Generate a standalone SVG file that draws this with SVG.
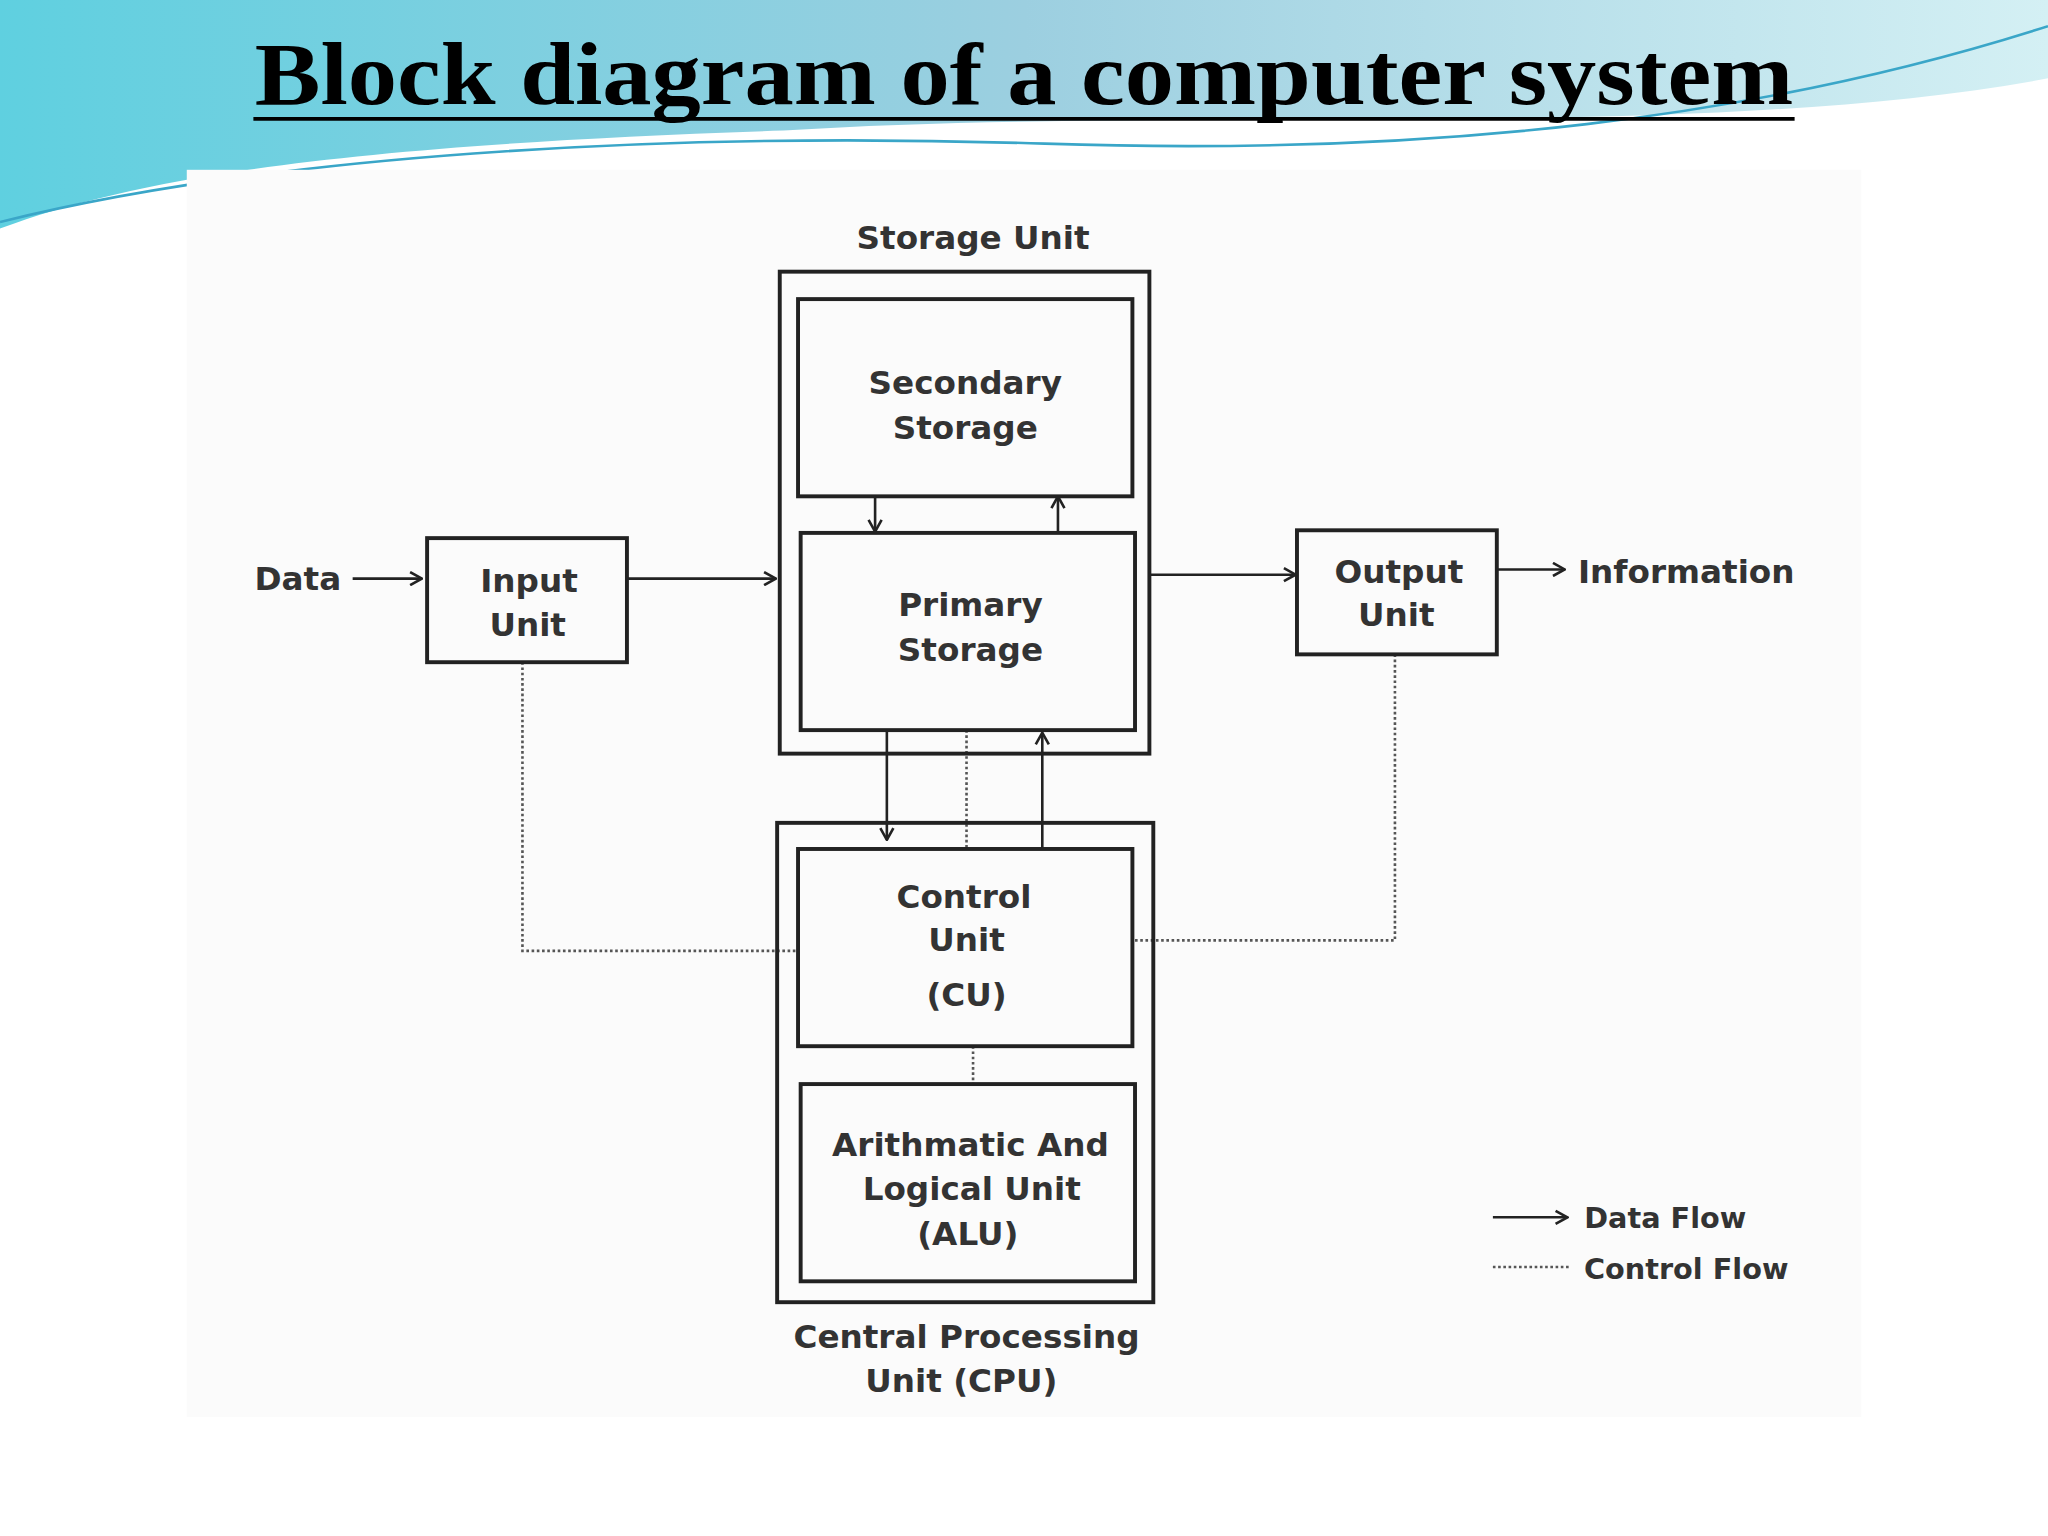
<svg xmlns="http://www.w3.org/2000/svg" width="2048" height="1536" viewBox="0 0 2048 1536">
<defs>
<style>
.box{fill:none;stroke:#222;stroke-width:3}
.flow{stroke:#222;stroke-width:2;fill:none}
.ctl{stroke:#555;stroke-width:2;fill:none;stroke-dasharray:2 2}
.t{font-family:"DejaVu Sans",sans-serif;font-weight:bold;font-size:25px;fill:#333;text-anchor:middle}
</style>
<marker id="ah" viewBox="0 0 12 12" refX="11" refY="6" markerWidth="12" markerHeight="12" markerUnits="userSpaceOnUse" orient="auto"><path d="M2,1 L11,6 L2,11" fill="none" stroke="#222" stroke-width="2"/></marker>
<linearGradient id="sw" x1="0" y1="0" x2="1" y2="0"><stop offset="0" stop-color="#5fd0e0"/><stop offset="0.5" stop-color="#9ccfe0"/><stop offset="1" stop-color="#d4f0f4"/></linearGradient>
</defs>
<rect width="2048" height="1536" fill="#fff"/>
<g transform="scale(1.30612)">
<path d="M0,0 H1568 V60 C1300,110 900,80 600,100 C300,110 120,130 0,175 Z" fill="url(#sw)"/>
<path d="M0,170 C200,120 500,100 800,110 C1100,120 1350,90 1568,20" fill="none" stroke="#3aa6c8" stroke-width="2"/>
<rect x="143" y="130" width="1282" height="955" fill="#fbfbfb"/>
<text x="784" y="80" font-family="Liberation Serif,serif" font-weight="bold" font-size="68" text-anchor="middle" fill="#000" textLength="1178" lengthAdjust="spacingAndGlyphs">Block diagram of a computer system</text>
<line x1="194" y1="91" x2="1374" y2="91" stroke="#000" stroke-width="3"/>

<g id="connectors">
<line class="flow" x1="270" y1="443" x2="323" y2="443" marker-end="url(#ah)"/>
<line class="flow" x1="480" y1="443" x2="594" y2="443" marker-end="url(#ah)"/>
<line class="flow" x1="880" y1="440" x2="992" y2="440" marker-end="url(#ah)"/>
<line class="flow" x1="1146" y1="436" x2="1198" y2="436" marker-end="url(#ah)"/>
<line class="flow" x1="670" y1="380" x2="670" y2="407" marker-end="url(#ah)"/>
<line class="flow" x1="810" y1="408" x2="810" y2="380" marker-end="url(#ah)"/>
<line class="flow" x1="679" y1="559" x2="679" y2="643" marker-end="url(#ah)"/>
<line class="flow" x1="798" y1="650" x2="798" y2="561" marker-end="url(#ah)"/>
<line class="ctl" x1="740" y1="559" x2="740" y2="650"/>
<polyline class="ctl" points="400,507 400,728 611,728"/>
<polyline class="ctl" points="1068,501 1068,720 867,720"/>
<line class="ctl" x1="745" y1="801" x2="745" y2="830"/>
</g>

<g id="storage-unit"><rect class="box" x="597" y="208" width="283" height="369"/><text class="t" x="745" y="191">Storage Unit</text></g>
<g id="secondary-storage"><rect class="box" x="611" y="229" width="256" height="151"/><text class="t" x="739" y="302">Secondary</text><text class="t" x="739" y="336">Storage</text></g>
<g id="primary-storage"><rect class="box" x="613" y="408" width="256" height="151"/><text class="t" x="743" y="472">Primary</text><text class="t" x="743" y="506">Storage</text></g>
<g id="input-unit"><rect class="box" x="327" y="412" width="153" height="95"/><text class="t" x="405" y="453">Input</text><text class="t" x="404" y="487">Unit</text></g>
<g id="output-unit"><rect class="box" x="993" y="406" width="153" height="95"/><text class="t" x="1071" y="446">Output</text><text class="t" x="1069" y="479">Unit</text></g>
<g id="cpu"><rect class="box" x="595" y="630" width="288" height="367"/><text class="t" x="740" y="1032">Central Processing</text><text class="t" x="736" y="1066">Unit (CPU)</text></g>
<g id="control-unit"><rect class="box" x="611" y="650" width="256" height="151"/><text class="t" x="738" y="695">Control</text><text class="t" x="740" y="728">Unit</text><text class="t" x="740" y="770">(CU)</text></g>
<g id="alu"><rect class="box" x="613" y="830" width="256" height="151"/><text class="t" x="743" y="885">Arithmatic And</text><text class="t" x="744" y="919">Logical Unit</text><text class="t" x="741" y="953">(ALU)</text></g>
<g id="data"><text class="t" x="228" y="452">Data</text></g>
<g id="information"><text class="t" x="1291" y="446">Information</text></g>
<g id="legend">
<line class="flow" x1="1143" y1="932" x2="1200" y2="932" marker-end="url(#ah)"/>
<text class="t" x="1275" y="940" style="font-size:22px">Data Flow</text>
<line class="ctl" x1="1143" y1="970" x2="1203" y2="970"/>
<text class="t" x="1291" y="979" style="font-size:22px">Control Flow</text>
</g>
</g>
</svg>
